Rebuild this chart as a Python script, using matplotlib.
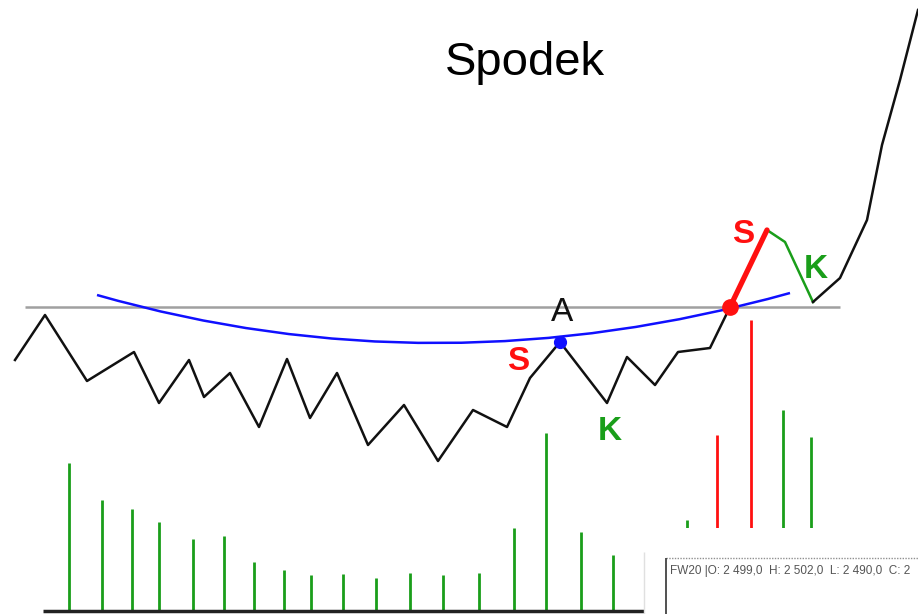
import matplotlib.pyplot as plt
from matplotlib.path import Path
from matplotlib.patches import PathPatch, Rectangle

plt.rcParams['font.family'] = ['Liberation Sans', 'DejaVu Sans']

# price path (picture coordinates, y grows downward)
price_x = [15, 45, 87, 134, 159, 189, 204, 230, 259, 287, 310, 337, 368, 404, 438,
           473, 507, 530, 560, 607, 627, 655, 678, 710, 730, 767, 785, 813, 840,
           867, 882, 900, 918]
price_y = [360, 315, 381, 352, 403, 360, 397, 373, 427, 359, 418, 373, 445, 405, 461,
           410, 427, 378, 342, 403, 357, 385, 352, 348, 307, 230, 242, 302, 278,
           220, 145, 80, 10]
i_break = 24   # breakout point (red dot)
i_top = 25     # end of red leg
i_back = 27    # end of green pullback

# volume bars
vol_x = [69, 102, 132, 159, 193, 224, 254, 284, 311, 343, 376, 410, 443, 479,
         514, 546, 581, 613, 687, 717, 751, 783, 811]
vol_top = [463, 500, 509, 522, 539, 536, 562, 570, 575, 574, 578, 573, 575, 573,
           528, 433, 532, 555, 520, 435, 320, 410, 437]
vol_col = ['g'] * 19 + ['r', 'r', 'g', 'g']

resistance = 307
bowl = [(97, 295), (436, 392), (790, 293)]   # start, control, end

green = '#1a9e1a'
red = '#ff1010'

fig = plt.figure(figsize=(9.18, 6.14), dpi=100)
ax = fig.add_axes([0, 0, 1, 1])
ax.set_xlim(0, 918)
ax.set_ylim(614, 0)
ax.axis('off')

# resistance line
ax.hlines(resistance, 25, 840, color='#a0a0a0', lw=1.8, zorder=1)

# bowl curve
bowl_path = Path(bowl, [Path.MOVETO, Path.CURVE3, Path.CURVE3])
ax.add_patch(PathPatch(bowl_path, fill=False, edgecolor='#1010ff', lw=1.8, zorder=2))

# price line
ax.plot(price_x[:i_break + 1], price_y[:i_break + 1], color='#111111', lw=1.8, zorder=3)
ax.plot(price_x[i_break:i_top + 1], price_y[i_break:i_top + 1], color=red, lw=3.8,
        solid_capstyle='round', zorder=4)
ax.plot(price_x[i_top:i_back + 1], price_y[i_top:i_back + 1], color=green, lw=1.8, zorder=3)
ax.plot(price_x[i_back:], price_y[i_back:], color='#111111', lw=1.8, zorder=3)

ax.plot(price_x[18], price_y[18], 'o', color='#1010ff', ms=8.5, zorder=5)
ax.plot(price_x[i_break], price_y[i_break], 'o', color=red, ms=11, zorder=5)

# volume
colors = [green if c == 'g' else red for c in vol_col]
ax.vlines(vol_x, vol_top, 611, colors=colors, lw=2, zorder=2)
ax.hlines(611, 43, 644, color='#222222', lw=2.5, zorder=3)

# pasted inset covering the right bottom corner
ax.add_patch(Rectangle((645, 528), 280, 90, facecolor='white', edgecolor='none', zorder=6))
ax.vlines(644, 552, 614, color='#e0e0e0', lw=1, zorder=7)
ax.hlines(558, 666, 918, color='#909090', lw=1, linestyles=(0, (1, 1)), zorder=7)
ax.vlines(666, 558, 614, color='#333333', lw=1.2, zorder=7)
ax.text(670, 571, 'FW20 |O: 2 499,0  H: 2 502,0  L: 2 490,0  C: 2', fontsize=8.5,
        color='#555555', va='center', ha='left', zorder=8)

# labels
ax.text(525, 75, 'Spodek', fontsize=34, ha='center', va='baseline')
ax.text(562, 321, 'A', fontsize=24, ha='center', va='baseline', color='#111111')
ax.text(518, 370, 'S', fontsize=24, ha='center', va='baseline', color=red, fontweight='bold')
ax.text(610, 440, 'K', fontsize=24, ha='center', va='baseline', color=green, fontweight='bold')
ax.text(743, 243, 'S', fontsize=24, ha='center', va='baseline', color=red, fontweight='bold')
ax.text(816, 278, 'K', fontsize=24, ha='center', va='baseline', color=green, fontweight='bold')

fig.savefig('out.png', dpi=100, facecolor='white')
